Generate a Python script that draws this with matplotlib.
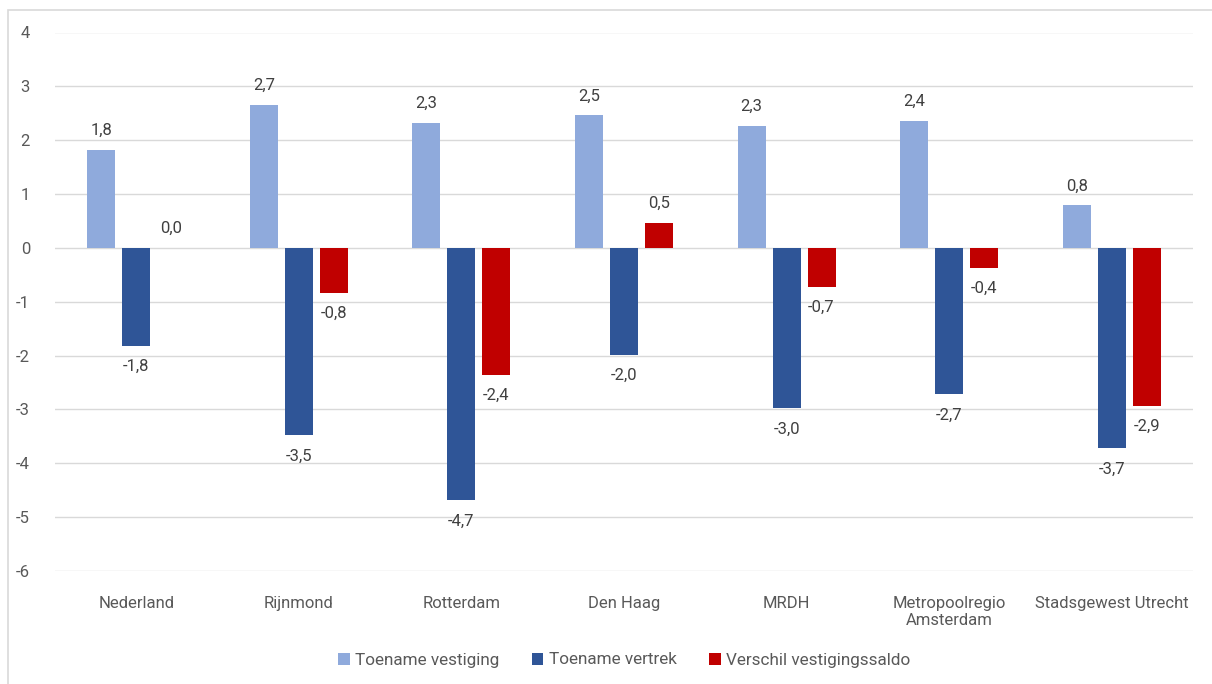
import numpy as np
import matplotlib
matplotlib.use("Agg")
import matplotlib.pyplot as plt
from matplotlib.patches import Rectangle

# categories and series
regios = ["Nederland", "Rijnmond", "Rotterdam", "Den Haag", "MRDH",
          "Metropoolregio\nAmsterdam", "Stadsgewest Utrecht"]
toename_vestiging = [1.82, 2.66, 2.32, 2.46, 2.26, 2.36, 0.79]
toename_vertrek = [-1.82, -3.48, -4.69, -1.98, -2.98, -2.72, -3.72]
verschil_saldo = [0.0, -0.83, -2.36, 0.47, -0.72, -0.37, -2.93]

series = [
    ("Toename vestiging", toename_vestiging, "#8faadc"),
    ("Toename vertrek", toename_vertrek, "#2f5597"),
    ("Verschil vestigingssaldo", verschil_saldo, "#c00000"),
]

plt.rcParams["font.family"] = ["Roboto", "DejaVu Sans"]
plt.rcParams["axes.unicode_minus"] = False

fig = plt.figure(figsize=(12.12, 6.84), dpi=100)
ax = fig.add_axes([55 / 1212, 1 - 571 / 684, (1193 - 55) / 1212, (571 - 32.5) / 684])

# chart frame (cropped on right and bottom)
fig.patches.append(Rectangle((8 / 1212, -0.1), 1.2, 1 - 10 / 684 + 0.1,
                             transform=fig.transFigure, fill=False,
                             edgecolor="#d9d9d9", lw=1.2))

x = np.arange(len(regios))
w = 0.172
step = 0.215
for i, (naam, vals, kleur) in enumerate(series):
    pos = x + (i - 1) * step
    ax.bar(pos, vals, width=w, color=kleur, label=naam, zorder=3)
    for px, v in zip(pos, vals):
        off = 14 if v >= 0 else -15
        ax.annotate(f"{v:.1f}".replace(".", ","), (px, v), xytext=(0, off),
                    textcoords="offset points", ha="center", va="center",
                    fontsize=12, color="#404040")

ax.set_xlim(-0.5, len(regios) - 0.5)
ax.set_ylim(-6, 4)
ax.set_yticks(range(-6, 5))
ax.set_xticks(x)
ax.set_xticklabels(regios)
ax.yaxis.grid(True, color="#d9d9d9", lw=1)
ax.set_axisbelow(True)
for s in ax.spines.values():
    s.set_visible(False)
ax.tick_params(axis="both", length=0, colors="#595959", labelsize=12)
ax.tick_params(axis="x", pad=18)
ax.tick_params(axis="y", pad=18)

leg = ax.legend(loc="center", bbox_to_anchor=(0.5, (684 - 660 - (684 - 571)) / (571 - 32.5)),
                ncol=3, frameon=False, fontsize=12.3, handlelength=0.7, handleheight=0.7,
                handletextpad=0.3, columnspacing=1.9)
for t in leg.get_texts():
    t.set_color("#595959")

fig.savefig("out.png", dpi=100)
